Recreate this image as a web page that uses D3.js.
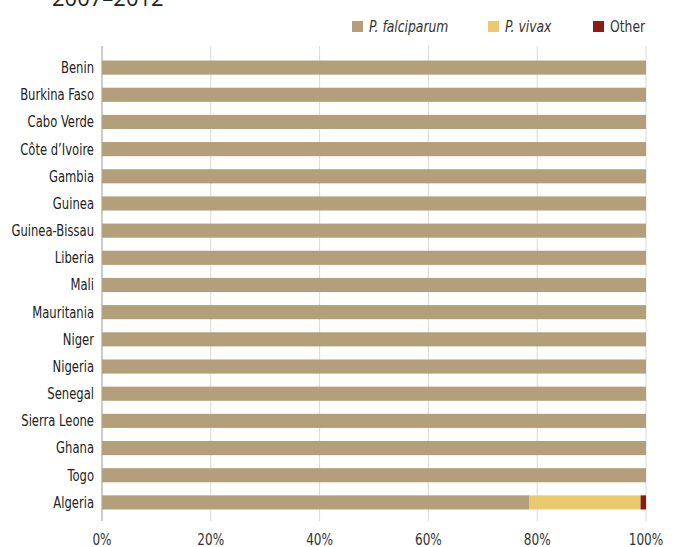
<!DOCTYPE html>
<html><head><meta charset="utf-8">
<script src="https://cdn.jsdelivr.net/npm/d3@7/dist/d3.min.js"></script>
<style>body{margin:0;background:#fff}svg{display:block}text{font-family:"DejaVu Sans Condensed","DejaVu Sans",sans-serif;font-stretch:condensed}</style>
</head><body><svg id="c" width="680" height="547"></svg>
<script>
const countries = ["Benin","Burkina Faso","Cabo Verde","Côte d’Ivoire","Gambia","Guinea","Guinea-Bissau","Liberia","Mali","Mauritania","Niger","Nigeria","Senegal","Sierra Leone","Ghana","Togo","Algeria"];
const falciparum = [100,100,100,100,100,100,100,100,100,100,100,100,100,100,100,100,78.5];
const vivax = [0,0,0,0,0,0,0,0,0,0,0,0,0,0,0,0,20.5];
const other = [0,0,0,0,0,0,0,0,0,0,0,0,0,0,0,0,1.0];
const seriesNames = ["P. falciparum","P. vivax","Other"];
const ticks = [0,20,40,60,80,100];
const colors = ["#b39f7a","#e9c86e","#8c1c12"];

const svg = d3.select("#c");
const x = d3.scaleLinear().domain([0,100]).range([102,646]);
const y = d3.scaleBand().domain(countries).range([54,516]).paddingInner(0.48).paddingOuter(0.24);

svg.append("text").attr("x",52).attr("y",6).attr("font-size",22).attr("fill","#222")
  .style("font-family","'Open Sans',sans-serif").style("font-stretch","normal").text("2007–2012");

// grid
svg.append("g").selectAll("line").data(ticks.slice(1)).join("line")
  .attr("x1",d=>x(d)).attr("x2",d=>x(d)).attr("y1",46).attr("y2",521)
  .attr("stroke","#d9d9d9").attr("stroke-width",1);
svg.append("line").attr("x1",x(0)).attr("x2",x(0)).attr("y1",46).attr("y2",521)
  .attr("stroke","#999").attr("stroke-width",1);

const data = countries.map((c,i)=>({c, v:[falciparum[i],vivax[i],other[i]]}));
const stack = d3.stack().keys([0,1,2]).value((d,k)=>d.v[k])(data);
svg.append("g").selectAll("g").data(stack).join("g").attr("fill",(d,i)=>colors[i])
  .selectAll("rect").data(d=>d.filter(p=>p[1]>p[0])).join("rect")
  .attr("x",d=>x(d[0])).attr("width",d=>x(d[1])-x(d[0]))
  .attr("y",d=>y(d.data.c)).attr("height",y.bandwidth());

// category labels
svg.append("g").selectAll("text").data(countries).join("text")
  .attr("transform",d=>`translate(94,${y(d)+y.bandwidth()/2}) scale(0.86,1)`).attr("dy","0.36em")
  .attr("text-anchor","end").attr("font-size",15).attr("fill","#222").text(d=>d);

// x tick labels
svg.append("g").selectAll("text").data(ticks).join("text")
  .attr("transform",d=>`translate(${x(d)},545) scale(0.84,1)`).attr("text-anchor","middle")
  .attr("font-size",16).attr("fill","#333").text(d=>d+"%");

// legend
const legX = [352,488,593];
const lg = svg.append("g").selectAll("g").data(seriesNames).join("g")
  .attr("transform",(d,i)=>`translate(${legX[i]},0)`);
lg.append("rect").attr("x",0).attr("y",21).attr("width",11).attr("height",11).attr("fill",(d,i)=>colors[i]);
lg.append("text").attr("transform","translate(17,32) scale(0.86,1)").attr("font-size",16).attr("fill","#333")
  .style("font-style",(d,i)=>i<2?"italic":"normal").text(d=>d);
</script></body></html>
